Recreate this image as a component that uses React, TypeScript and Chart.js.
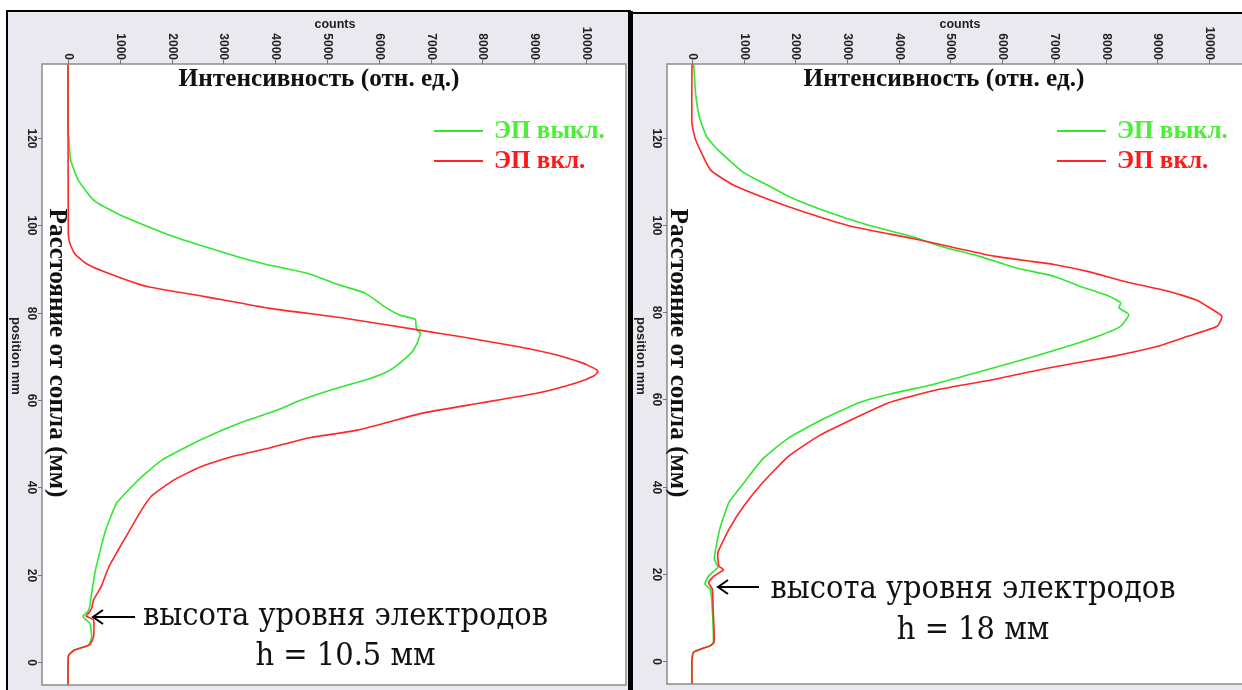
import React, { useEffect, useRef } from "react";
import { Chart, registerables } from "chart.js";

Chart.register(...registerables);

// ---------- data ----------
const xTickValues = [0, 1000, 2000, 3000, 4000, 5000, 6000, 7000, 8000, 9000, 10000];
const yTickValues = [0, 20, 40, 60, 80, 100, 120];
const seriesNames = ["ЭП выкл.", "ЭП вкл."];
const xAxisName = "counts";
const yAxisName = "position mm";
const titleX = "Интенсивность (отн. ед.)";
const titleY = "Расстояние от сопла (мм)";
const noteLine1 = "высота уровня электродов";
const noteLeft = "h = 10.5 мм";
const noteRight = "h = 18 мм";

// Left panel, EP off (green)
const leftOffPos = [137, 121, 120.3, 115, 110.4, 105.8, 102.8, 100.5, 97.4, 93.8, 91.3, 89, 86.4, 84.5, 81.4, 79.5, 78.5, 77, 76, 75.3, 74, 73, 71, 69.2, 67.5, 66.2, 64.6, 62.3, 60, 57.7, 54.7, 50.9, 46.3, 43, 40.2, 36.4, 33.3, 30, 26.4, 21.1, 15.8, 12.7, 11.5, 10.5, 9.8, 8.9, 5.8, 3.9, 2.7, 1.6, 0, -6];
const leftOffCounts = [0, 0, 13, 50, 197, 493, 938, 1381, 2046, 3008, 3747, 4635, 5225, 5740, 6110, 6400, 6704, 6720, 6740, 6808, 6770, 6740, 6640, 6480, 6300, 6110, 5740, 5077, 4500, 4043, 3304, 2563, 1820, 1480, 1232, 938, 826, 720, 640, 530, 456, 420, 380, 287, 330, 420, 456, 400, 124, 13, 0, 0];

// Left panel, EP on (red)
const leftOnPos = [137, 98.3, 95.9, 93.6, 91.3, 89, 86, 83.7, 81, 78.7, 75.9, 74.5, 72.2, 70.3, 68.4, 68, 67, 66.5, 65.5, 63.9, 61.6, 59.3, 57, 53.1, 51.3, 49, 47, 44.7, 41.7, 37.9, 34.1, 29.5, 25, 21.8, 17.3, 14.2, 12.3, 11.2, 10.5, 9.6, 5.8, 3.9, 2.7, 1.6, 0, -6];
const leftOnCounts = [0, 5, 35, 124, 346, 789, 1528, 2638, 3896, 5373, 6847, 7592, 8700, 9440, 9958, 10031, 10200, 10232, 10150, 9807, 9072, 7961, 6847, 5590, 4635, 3888, 3153, 2563, 2046, 1603, 1381, 1159, 938, 789, 642, 493, 456, 400, 346, 493, 493, 420, 124, 13, 0, 0];

// Right panel, EP off (green)
const rightOffPos = [137, 130.3, 124.9, 120.3, 117.3, 112, 108.9, 106.6, 103.2, 100.1, 97.4, 95.1, 92.9, 90.2, 88.3, 86, 83.7, 82.2, 81, 79.5, 76.8, 74.5, 72.2, 69.2, 66.1, 63.5, 61.2, 59.3, 55.4, 51.2, 46.3, 40.9, 36.4, 30.2, 23.4, 21.5, 19.5, 17.6, 16.5, 11.9, 4.3, 3.5, 2, 0, -6];
const rightOffCounts = [33, 70, 141, 285, 502, 1006, 1510, 1870, 2590, 3385, 4250, 4828, 5550, 6270, 7000, 7500, 8070, 8290, 8260, 8450, 8290, 7850, 7270, 6410, 5480, 4680, 3815, 3240, 2520, 1870, 1365, 1006, 716, 536, 430, 502, 320, 250, 355, 393, 412, 355, 33, 0, 0];

// Right panel, EP on (red)
const rightOnPos = [137, 123.4, 119.6, 112.7, 109.3, 105.8, 102.8, 99.7, 97, 95.5, 92.9, 91.7, 91, 89.4, 87.1, 84.8, 82.9, 81, 79.1, 76.8, 74.5, 72.2, 69.9, 67.3, 64.6, 62.3, 59.3, 55.4, 51.6, 47, 40.9, 35.6, 30.2, 24.9, 21.8, 20.9, 19.5, 18, 16.5, 11.1, 4.3, 3.5, 2, 0, -6];
const rightOnCounts = [0, 0, 70, 357, 790, 1510, 2230, 3095, 4250, 4828, 5840, 6560, 7000, 7650, 8370, 9230, 9740, 10020, 10250, 10160, 9590, 9010, 8140, 6920, 5840, 4760, 3815, 3095, 2445, 1870, 1365, 1006, 716, 502, 520, 610, 430, 320, 393, 412, 430, 355, 33, 0, 0];

// ---------- styles ----------
const GREEN_LINE = "#2fe82f";
const RED_LINE = "#ff2626";
const GREEN_TEXT = "#4cee38";
const RED_TEXT = "#ff1a1a";
const PANEL_BG = "#e9e9ef";

type PanelCfg = {
  left: number;
  width: number;
  pad: { left: number; top: number; right: number; bottom: number };
  xMin: number;
  xMax: number;
  yMin: number;
  yMax: number;
  offPos: number[];
  offCounts: number[];
  onPos: number[];
  onCounts: number[];
  note2: string;
  frame: (ctx: CanvasRenderingContext2D, w: number, h: number) => void;
  titleYOffset: number;
  legendLineX: number;
  legendTextX: number;
  noteX: number;
  noteBase1: number;
  noteBase2: number;
  arrowTipX: number;
  arrowTailX: number;
  arrowY: number;
};

function fitSize(ctx: CanvasRenderingContext2D, text: string, weight: string, family: string, target: number) {
  ctx.font = `${weight} 100px ${family}`;
  const w = ctx.measureText(text).width;
  return (100 * target) / w;
}

function vText(ctx: CanvasRenderingContext2D, text: string, x: number, y: number, align: CanvasTextAlign) {
  ctx.save();
  ctx.translate(x, y);
  ctx.rotate(Math.PI / 2);
  ctx.textAlign = align;
  ctx.textBaseline = "middle";
  ctx.fillText(text, 0, 0);
  ctx.restore();
}

// text drawn at a given font size, horizontally condensed to a target width
function squeezedText(ctx: CanvasRenderingContext2D, text: string, cx: number, baseline: number, size: number, family: string, sx: number) {
  ctx.save();
  ctx.font = `${size}px ${family}`;
  ctx.translate(cx, baseline);
  ctx.scale(sx, 1);
  ctx.textAlign = "center";
  ctx.textBaseline = "alphabetic";
  ctx.fillText(text, 0, 0);
  ctx.restore();
}

const SERIF = '"Liberation Serif", "Times New Roman", serif';
const SANS = '"Liberation Sans", Arial, sans-serif';
const NOTE_FONT = '"DejaVu Serif", serif';
const NOTE_SIZE = 31;

function makePlugin(cfg: PanelCfg) {
  return {
    id: "panelDecor",
    beforeDraw(chart: any) {
      const ctx: CanvasRenderingContext2D = chart.ctx;
      const { width, height } = chart;
      ctx.save();
      cfg.frame(ctx, width, height);
      const a = chart.chartArea;
      ctx.fillStyle = "#ffffff";
      ctx.fillRect(a.left, a.top, a.right - a.left, a.bottom - a.top);
      ctx.restore();
    },
    afterDraw(chart: any) {
      const ctx: CanvasRenderingContext2D = chart.ctx;
      const a = chart.chartArea;
      const xs = chart.scales.x;
      const ys = chart.scales.y;
      ctx.save();
      // plot border
      ctx.strokeStyle = "#8c8c8c";
      ctx.lineWidth = 1.5;
      ctx.strokeRect(a.left, a.top, a.right - a.left, a.bottom - a.top);
      // ticks
      ctx.strokeStyle = "#777";
      ctx.lineWidth = 1;
      ctx.fillStyle = "#1e1e1e";
      ctx.font = `bold 12px ${SANS}`;
      for (const v of xTickValues) {
        const x = Math.round(xs.getPixelForValue(v)) + 0.5;
        ctx.beginPath();
        ctx.moveTo(x, a.top);
        ctx.lineTo(x, a.top - 4);
        ctx.stroke();
        vText(ctx, String(v), x, a.top - 4, "right");
      }
      for (const v of yTickValues) {
        const y = Math.round(ys.getPixelForValue(v)) + 0.5;
        ctx.beginPath();
        ctx.moveTo(a.left, y);
        ctx.lineTo(a.left - 4, y);
        ctx.stroke();
        vText(ctx, String(v), a.left - 11, y, "center");
      }
      // axis names
      ctx.font = `bold ${fitSize(ctx, xAxisName, "bold", SANS, 41)}px ${SANS}`;
      ctx.textAlign = "center";
      ctx.textBaseline = "middle";
      ctx.fillText(xAxisName, a.left + 293, 25);
      ctx.font = `bold ${fitSize(ctx, yAxisName, "bold", SANS, 78)}px ${SANS}`;
      vText(ctx, yAxisName, a.left - 26, 356, "center");

      // russian titles
      ctx.fillStyle = "#111";
      ctx.font = `bold ${fitSize(ctx, titleX, "bold", SERIF, 281)}px ${SERIF}`;
      ctx.textAlign = "center";
      ctx.textBaseline = "middle";
      ctx.fillText(titleX, a.left + 277, 79);
      ctx.font = `bold ${fitSize(ctx, titleY, "bold", SERIF, 289)}px ${SERIF}`;
      vText(ctx, titleY, a.left + cfg.titleYOffset, 353, "center");

      // legend
      const legSize = fitSize(ctx, seriesNames[0], "bold", SERIF, 111);
      const legendRows = [
        { name: seriesNames[0], line: GREEN_LINE, text: GREEN_TEXT, y: 131 },
        { name: seriesNames[1], line: RED_LINE, text: RED_TEXT, y: 161 },
      ];
      for (const r of legendRows) {
        ctx.strokeStyle = r.line;
        ctx.lineWidth = 1.8;
        ctx.beginPath();
        ctx.moveTo(a.left + cfg.legendLineX, r.y);
        ctx.lineTo(a.left + cfg.legendLineX + 49, r.y);
        ctx.stroke();
        ctx.fillStyle = r.text;
        ctx.font = `bold ${legSize}px ${SERIF}`;
        ctx.textAlign = "left";
        ctx.textBaseline = "middle";
        ctx.fillText(r.name, a.left + cfg.legendTextX, r.y + 1);
      }

      // annotation
      ctx.fillStyle = "#111";
      ctx.font = `${NOTE_SIZE}px ${NOTE_FONT}`;
      const sx = 405 / ctx.measureText(noteLine1).width;
      squeezedText(ctx, noteLine1, cfg.noteX, cfg.noteBase1, NOTE_SIZE, NOTE_FONT, sx);
      squeezedText(ctx, cfg.note2, cfg.noteX, cfg.noteBase2, NOTE_SIZE, NOTE_FONT, sx);
      ctx.strokeStyle = "#000";
      ctx.lineWidth = 2;
      ctx.beginPath();
      ctx.moveTo(cfg.arrowTailX, cfg.arrowY);
      ctx.lineTo(cfg.arrowTipX, cfg.arrowY);
      ctx.moveTo(cfg.arrowTipX + 10, cfg.arrowY - 7);
      ctx.lineTo(cfg.arrowTipX, cfg.arrowY);
      ctx.lineTo(cfg.arrowTipX + 10, cfg.arrowY + 7);
      ctx.stroke();
      ctx.restore();
    },
  };
}

const leftCfg: PanelCfg = {
  left: 0,
  width: 631,
  pad: { left: 42, top: 64, right: 5, bottom: 5 },
  xMin: -503,
  xMax: 10774,
  yMin: -5.3,
  yMax: 137,
  offPos: leftOffPos,
  offCounts: leftOffCounts,
  onPos: leftOnPos,
  onCounts: leftOnCounts,
  note2: noteLeft,
  frame: (ctx, w, h) => {
    ctx.fillStyle = "#ffffff";
    ctx.fillRect(0, 0, w, h);
    ctx.fillStyle = PANEL_BG;
    ctx.fillRect(7, 11, 622, h - 11);
    ctx.fillStyle = "#000";
    ctx.fillRect(6, 10, 626, 2);
    ctx.fillRect(6, 10, 2, h - 10);
    ctx.fillRect(628, 10, 3, h - 10);
  },
  titleYOffset: 15,
  legendLineX: 392,
  legendTextX: 452,
  noteX: 345.5,
  noteBase1: 625,
  noteBase2: 665,
  arrowTipX: 93,
  arrowTailX: 135,
  arrowY: 617,
};

const rightCfg: PanelCfg = {
  left: 631,
  width: 640,
  pad: { left: 36, top: 64, right: 22, bottom: 6 },
  xMin: -483,
  xMax: 10774,
  yMin: -5.3,
  yMax: 137,
  offPos: rightOffPos,
  offCounts: rightOffCounts,
  onPos: rightOnPos,
  onCounts: rightOnCounts,
  note2: noteRight,
  frame: (ctx, w, h) => {
    ctx.fillStyle = "#ffffff";
    ctx.fillRect(0, 0, w, h);
    ctx.fillStyle = PANEL_BG;
    ctx.fillRect(0, 12, w, h - 12);
    ctx.fillStyle = "#000";
    ctx.fillRect(0, 12, w, 2);
    ctx.fillRect(0, 11, 2, h - 11);
  },
  titleYOffset: 11,
  legendLineX: 390,
  legendTextX: 450,
  noteX: 342,
  noteBase1: 598,
  noteBase2: 639,
  arrowTipX: 87,
  arrowTailX: 128,
  arrowY: 587,
};

function Panel({ cfg }: { cfg: PanelCfg }) {
  const ref = useRef<HTMLCanvasElement | null>(null);
  useEffect(() => {
    if (!ref.current) return;
    const toPts = (pos: number[], counts: number[]) => pos.map((p, i) => ({ x: counts[i], y: p }));
    const chart = new Chart(ref.current, {
      type: "scatter",
      data: {
        datasets: [
          {
            label: seriesNames[1],
            data: toPts(cfg.onPos, cfg.onCounts),
            showLine: true,
            borderColor: RED_LINE,
            backgroundColor: RED_LINE,
            borderWidth: 1.6,
            pointRadius: 0,
            tension: 0.15,
          },
          {
            label: seriesNames[0],
            data: toPts(cfg.offPos, cfg.offCounts),
            showLine: true,
            borderColor: GREEN_LINE,
            backgroundColor: GREEN_LINE,
            borderWidth: 1.6,
            pointRadius: 0,
            tension: 0.15,
          },
        ],
      },
      options: {
        responsive: false,
        animation: false,
        devicePixelRatio: 1,
        events: [],
        layout: { padding: cfg.pad },
        plugins: { legend: { display: false }, tooltip: { enabled: false } },
        scales: {
          x: { type: "linear", min: cfg.xMin, max: cfg.xMax, display: false },
          y: { type: "linear", min: cfg.yMin, max: cfg.yMax, display: false },
        },
      },
      plugins: [makePlugin(cfg)],
    } as any);
    return () => chart.destroy();
  }, [cfg]);
  return (
    <canvas
      ref={ref}
      width={cfg.width}
      height={690}
      style={{ position: "absolute", left: cfg.left, top: 0, width: cfg.width, height: 690 }}
    />
  );
}

export default function App() {
  return (
    <div
      style={{
        position: "fixed",
        left: 0,
        top: 0,
        width: 1242,
        height: 690,
        overflow: "hidden",
        background: "#fff",
      }}
    >
      <Panel cfg={leftCfg} />
      <Panel cfg={rightCfg} />
    </div>
  );
}
